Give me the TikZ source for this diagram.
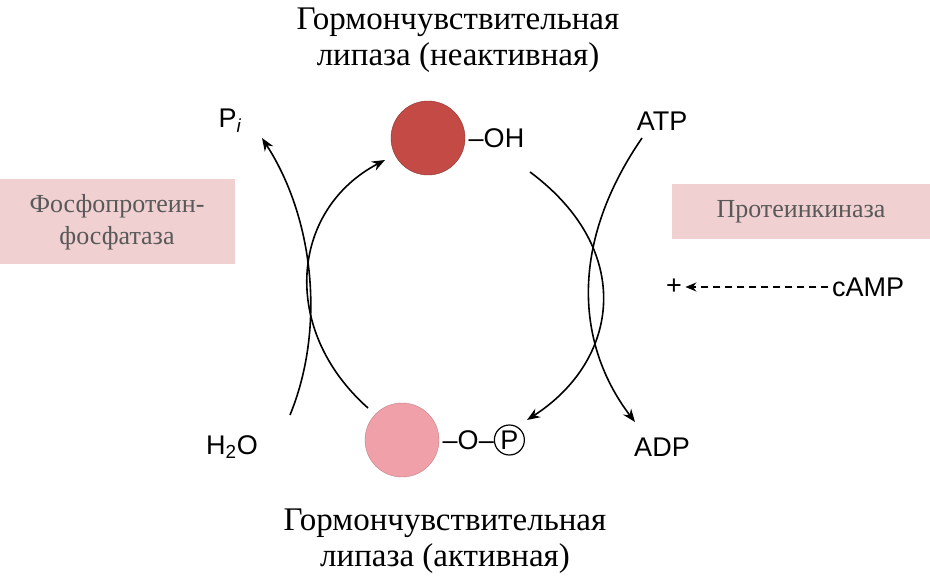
\documentclass[tikz,border=0pt]{standalone}
\usepackage{fontspec}
\setmainfont{Liberation Serif}
\newfontfamily\sansf{Liberation Sans}
\usetikzlibrary{arrows.meta}
\definecolor{boxc}{RGB}{240,208,208}
\definecolor{dk}{RGB}{196,74,70}
\definecolor{lt}{RGB}{240,160,168}
\begin{document}
\begin{tikzpicture}[x=1pt,y=-1pt,
  ttl/.style={font=\fontsize{33}{36}\selectfont,align=center},
  lab/.style={font=\sansf\fontsize{27}{30}\selectfont},
  box/.style={fill=boxc,text=black!65,font=\fontsize{26}{32}\selectfont,align=center},
  arr/.style={-{Stealth[length=13pt,width=10pt]},line width=1.6pt}]
\useasboundingbox (0,0) rectangle (930,580);
\node[ttl] (tt) at (458,40) {Гормончувствительная\\липаза (неактивная)};
\node[ttl] (bt) at (445,541) {Гормончувствительная\\липаза (активная)};
\node[circle,minimum size=74pt,fill=dk,draw=dk!70!black,inner sep=0] (c1) at (428,138) {};
\node[circle,minimum size=74pt,fill=lt,draw=lt!80!black,inner sep=0] (c2) at (402,440) {};
\node[lab,anchor=west] (oh) at (c1.east) {–OH};
\node[lab,anchor=west] (op) at (c2.east) {–O–\tikz[baseline=(p.base)]\node[draw,circle,line width=1.2pt,inner sep=1.5pt] (p) {P};};
\node[box,minimum width=235pt,minimum height=85pt] (lb) at (117,222) {Фосфопротеин-\\фосфатаза};
\node[box,minimum width=258pt,minimum height=55pt] (rb) at (801,212) {Протеинкиназа};
\node[lab] (pi) at (230,121) {P\textsubscript{\itshape i}};
\node[lab] (h2o) at (232,447) {H\textsubscript{2}O};
\node[lab] (atp) at (662,121) {ATP};
\node[lab] (adp) at (662,447) {ADP};
\node[lab] (camp) at (868,287) {cAMP};
\node[lab] (plus) at (674,287) {+};
\draw[dash pattern=on 7pt off 5pt,line width=1.6pt,-{Stealth[length=11pt,width=9pt]}] (camp.west) -- (plus.east);
\coordinate (a1) at (290,415);
\coordinate (a2) at (262,138);
\draw[arr] (a1) .. controls (325,330) and (315,220) .. (a2);
\coordinate (b1) at (368,408);
\coordinate (b2) at (385,160);
\draw[arr] (b1) .. controls (280,330) and (290,210) .. (b2);
\coordinate (d1) at (530,172);
\coordinate (d2) at (527,420);
\draw[arr] (d1) .. controls (635,250) and (620,360) .. (d2);
\coordinate (e1) at (642,138);
\coordinate (e2) at (635,422);
\draw[arr] (e1) .. controls (565,250) and (580,350) .. (e2);
\end{tikzpicture}
\end{document}
